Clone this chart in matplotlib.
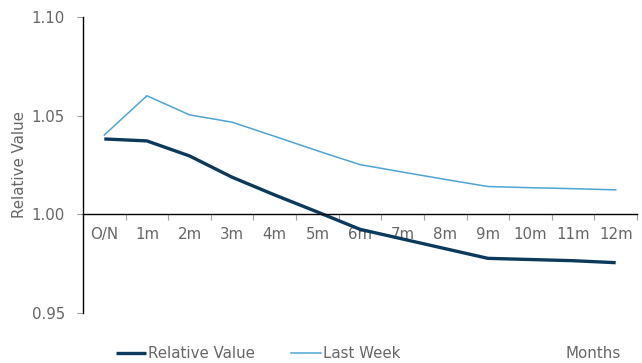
import matplotlib
matplotlib.use("Agg")
import matplotlib.pyplot as plt
import numpy as np

tenors = ["O/N", "1m", "2m", "3m", "4m", "5m", "6m", "7m", "8m", "9m", "10m", "11m", "12m"]
relative_value = [1.0382, 1.0372, 1.0296, 1.0188, 1.0098, 1.0012, 0.9924, 0.9875, 0.9826,
                  0.9777, 0.9771, 0.9765, 0.9755]
last_week = [1.0402, 1.0601, 1.0504, 1.0467, 1.0395, 1.0322, 1.0252, 1.0214, 1.0177,
             1.0141, 1.0135, 1.0130, 1.0124]

NAVY = "#0b3a5c"
LIGHT = "#4ea5d5"
GREY = "#666666"
FS = 10.8

plt.rcParams["font.family"] = ["DejaVu Sans"]

fig = plt.figure(figsize=(6.42, 3.63), dpi=100)
ax = fig.add_axes([83 / 642, 50 / 363, 554 / 642, 296 / 363])

x = np.arange(len(tenors))
l1, = ax.plot(x, relative_value, color=NAVY, lw=2.4, label="Relative Value",
              solid_capstyle="butt")
l2, = ax.plot(x, last_week, color=LIGHT, lw=1.1, label="Last Week")

ax.set_xlim(-0.5, len(tenors) - 0.5)
ax.set_ylim(0.95, 1.10)
ax.set_yticks([0.95, 1.00, 1.05, 1.10])
ax.set_yticklabels(["0.95", "1.00", "1.05", "1.10"])

# category axis runs along y = 1.00, ticks sit between categories
ax.spines["bottom"].set_position(("data", 1.0))
ax.spines["top"].set_visible(False)
ax.spines["right"].set_visible(False)
for s in ("left", "bottom"):
    ax.spines[s].set_color("black")
    ax.spines[s].set_linewidth(1.0)

ax.set_xticks(np.arange(-0.5, len(tenors), 1.0))
ax.set_xticklabels([])
ax.set_xticks(x, minor=True)
ax.set_xticklabels(tenors, minor=True)
ax.tick_params(axis="x", which="major", length=4, direction="out", color="#a0a0a0")
ax.tick_params(axis="x", which="minor", length=0, pad=9, labelsize=FS, labelcolor=GREY)
ax.tick_params(axis="y", length=4, direction="out", color="#a0a0a0", pad=9,
               labelsize=FS, labelcolor=GREY)

ax.set_ylabel("Relative Value", color=GREY, fontsize=FS)
ax.yaxis.set_label_coords(-0.101, 0.5)

fig.legend(handles=[l1, l2], loc="center left", bbox_to_anchor=(108 / 642, 1 - 354 / 363),
           ncol=2, frameon=False, handlelength=2.0, handletextpad=0.15,
           columnspacing=2.4, fontsize=FS, labelcolor=GREY, borderpad=0)

fig.text(593 / 642, 1 - 353 / 363, "Months", ha="center", va="center",
         color=GREY, fontsize=FS)

fig.savefig("out.png", dpi=100)
